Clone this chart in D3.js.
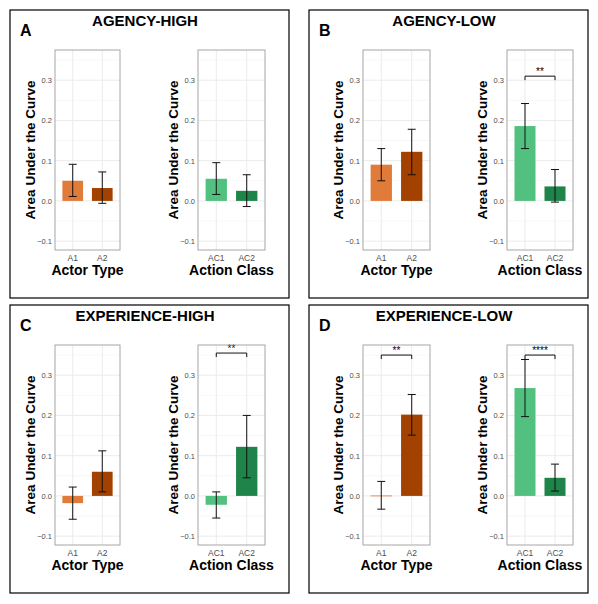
<!DOCTYPE html><html><head><meta charset="utf-8"><script src="https://cdn.jsdelivr.net/npm/d3@7"></script>
<style>body{margin:0;background:#fff}text{font-family:Arial,"Liberation Sans",sans-serif}</style></head><body>
<svg id="c" width="598" height="604"></svg>
<script>
const panelTitles=["AGENCY-HIGH","AGENCY-LOW","EXPERIENCE-HIGH","EXPERIENCE-LOW"];
const panelLetters=["A","B","C","D"];
const actorCats=["A1","A2"], classCats=["AC1","AC2"];
const yTicks=[-0.1,0,0.1,0.2,0.3];
// [mean, lo, hi] per panel
const actorVals=[
 [[0.050,0.011,0.091],[0.032,-0.006,0.072]],
 [[0.090,0.050,0.130],[0.122,0.065,0.178]],
 [[-0.018,-0.058,0.022],[0.060,0.010,0.112]],
 [[0.001,-0.033,0.036],[0.202,0.151,0.252]]];
const classVals=[
 [[0.055,0.016,0.095],[0.025,-0.014,0.065]],
 [[0.186,0.130,0.242],[0.036,-0.003,0.078]],
 [[-0.022,-0.055,0.010],[0.122,0.045,0.200]],
 [[0.268,0.197,0.339],[0.045,0.012,0.079]]];
// significance: [label, y] or null
const actorSig=[null,null,null,["**",0.35]];
const classSig=[null,["**",0.31],["**",0.355],["****",0.35]];
const actorColors=["#e07b39","#a34100"], classColors=["#52c07f","#1e8449"];

const svg=d3.select("#c");
const boxes=[[10,10],[309,10],[10,305],[309,305]];
const plotX=[[[55,120],[198,265]],[[363,430],[507,573]]];
function sub(g,x0,x1,y0,cats,vals,cols,sig,xtitle){
  const y=d3.scaleLinear().domain([-0.122,0.375]).range([y0+200,y0]);
  const x=d3.scalePoint().domain(cats).range([x0,x1]).padding(0.6);
  const step=x.step(), bw=step*0.7;
  const minor=[-0.05,0.05,0.15,0.25,0.35];
  minor.forEach(v=>g.append("line").attr("x1",x0).attr("x2",x1).attr("y1",y(v)).attr("y2",y(v)).attr("stroke","#f2f2f2").attr("stroke-width",0.6));
  yTicks.forEach(v=>g.append("line").attr("x1",x0).attr("x2",x1).attr("y1",y(v)).attr("y2",y(v)).attr("stroke","#ebebeb").attr("stroke-width",1));
  cats.forEach(c=>g.append("line").attr("x1",x(c)).attr("x2",x(c)).attr("y1",y0).attr("y2",y0+200).attr("stroke","#ebebeb"));
  cats.forEach((c,i)=>{const [m,lo,hi]=vals[i];
    g.append("rect").attr("x",x(c)-bw/2).attr("width",bw).attr("y",Math.min(y(m),y(0))).attr("height",Math.max(Math.abs(y(m)-y(0)),0.8)).attr("fill",cols[i]);
    const e=g.append("g").attr("stroke","#111").attr("stroke-width",1);
    e.append("line").attr("x1",x(c)).attr("x2",x(c)).attr("y1",y(lo)).attr("y2",y(hi));
    [lo,hi].forEach(v=>e.append("line").attr("x1",x(c)-4).attr("x2",x(c)+4).attr("y1",y(v)).attr("y2",y(v)));
  });
  if(sig){const sy=y(sig[1]);
    g.append("path").attr("d",`M${x(cats[0])},${sy+4}V${sy}H${x(cats[1])}V${sy+4}`).attr("fill","none").attr("stroke","#111");
    g.append("text").attr("x",(x(cats[0])+x(cats[1]))/2).attr("y",sy-1).attr("text-anchor","middle").attr("font-size",10).text(sig[0]);}
  g.append("rect").attr("x",x0).attr("y",y0).attr("width",x1-x0).attr("height",200).attr("fill","none").attr("stroke","#a6a6a6");
  yTicks.forEach(v=>g.append("text").attr("x",x0-3).attr("y",y(v)+3).attr("text-anchor","end").attr("font-size",7.5).attr("fill","#4d4d4d").text(v===0?"0.0":d3.format(".1f")(v)));
  cats.forEach(c=>g.append("text").attr("x",x(c)).attr("y",y0+211).attr("text-anchor","middle").attr("font-size",8.5).attr("fill","#4d4d4d").text(c));
  g.append("text").attr("x",(x0+x1)/2).attr("y",y0+225).attr("text-anchor","middle").attr("font-size",14).attr("font-weight","bold").text(xtitle);
  g.append("text").attr("transform",`translate(${x0-20},${y0+100}) rotate(-90)`).attr("text-anchor","middle").attr("font-size",13.5).attr("font-weight","bold").text("Area Under the Curve");
}
boxes.forEach(([bx,by],p)=>{
  const g=svg.append("g");
  g.append("rect").attr("x",bx).attr("y",by).attr("width",279).attr("height",288).attr("fill","none").attr("stroke","#000").attr("stroke-width",1.2);
  g.append("text").attr("x",bx+135).attr("y",by+16).attr("text-anchor","middle").attr("font-size",15).attr("font-weight","bold").text(panelTitles[p]);
  g.append("text").attr("x",bx+10).attr("y",by+26).attr("font-size",16).attr("font-weight","bold").text(panelLetters[p]);
  const px=plotX[p%2], y0=by+40;
  sub(g,px[0][0],px[0][1],y0,actorCats,actorVals[p],actorColors,actorSig[p],"Actor Type");
  sub(g,px[1][0],px[1][1],y0,classCats,classVals[p],classColors,classSig[p],"Action Class");
});
</script></body></html>
